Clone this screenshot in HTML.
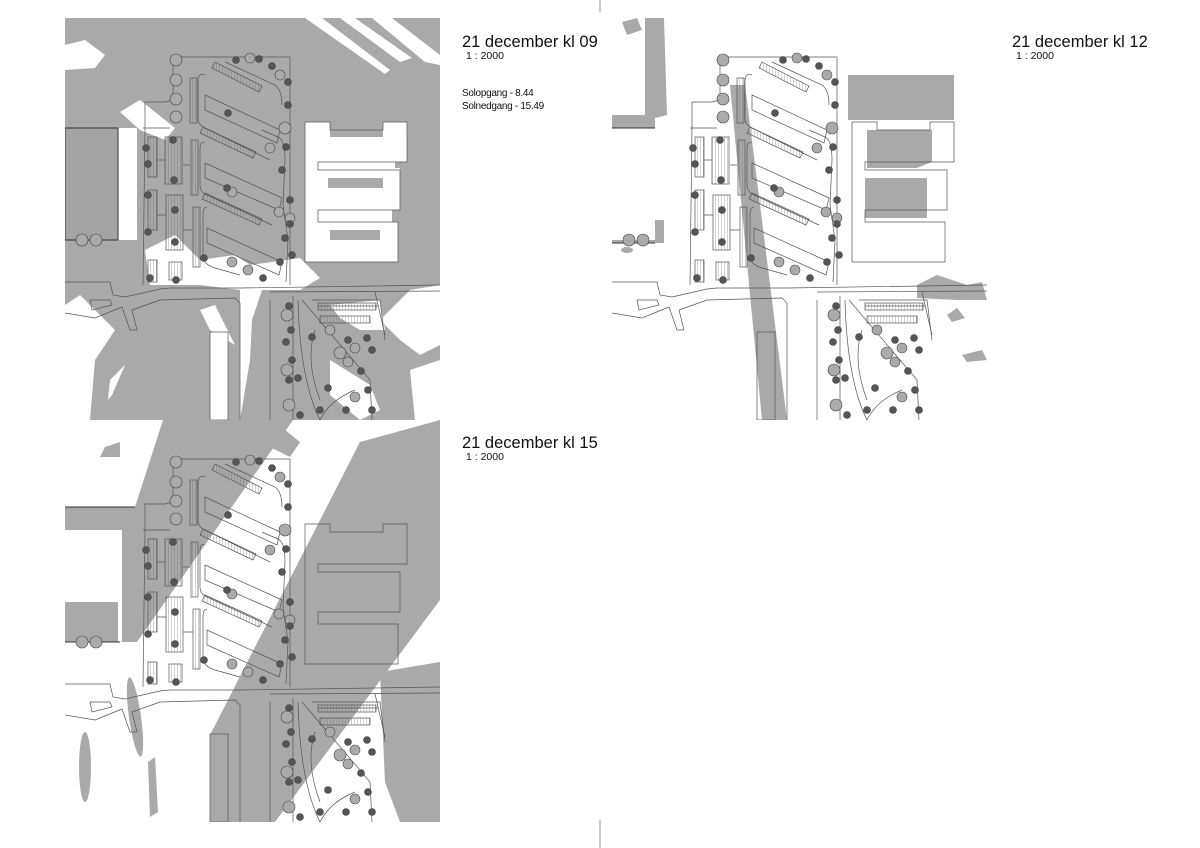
<!DOCTYPE html>
<html><head><meta charset="utf-8"><style>
html,body{margin:0;padding:0;background:#fff;width:1200px;height:848px;overflow:hidden}
svg{display:block}
.t1{font-family:"Liberation Sans",sans-serif;font-size:16.5px;fill:#111}
.t2{font-family:"Liberation Sans",sans-serif;font-size:10.5px;fill:#111}
.t3{font-family:"Liberation Sans",sans-serif;font-size:10px;fill:#111;letter-spacing:-0.3px}
</style></head><body>
<svg width="1200" height="848" viewBox="0 0 1200 848" xmlns="http://www.w3.org/2000/svg">
<defs>
<clipPath id="c3"><rect x="65" y="18" width="375" height="402"/></clipPath>
<pattern id="hat" width="3" height="3" patternUnits="userSpaceOnUse"><rect width="3" height="3" fill="none"/><path d="M0,0V3" stroke="#666" stroke-width="0.6"/></pattern>
<g id="plan" fill="none" stroke="#555" stroke-width="0.7">
  <path d="M173,57 L290,57 L290,285 M173,57 L173,100 L165,102 L145,102 L145,128 M145,128 L143,285"/>
  <path d="M143,128 L160,128 L170,128"/>
  <rect x="190" y="78" width="7" height="45" fill="url(#hat)"/>
  <rect x="191" y="140" width="7" height="55" fill="url(#hat)"/>
  <rect x="193" y="207" width="7" height="60" fill="url(#hat)"/>
  <polygon points="215,62 262,86 259,92 212,68" fill="url(#hat)"/>
  <polygon points="203,127 256,152 253,158 200,133" fill="url(#hat)"/>
  <polygon points="205,193 262,219 259,225 202,199" fill="url(#hat)"/>
  <path d="M205,75 Q198,72 198,82 L198,118 Q198,125 205,128 L270,160"/>
  <polygon points="205,95 280,130 277,143 205,110"/>
  <path d="M205,143 Q200,140 200,150 L200,185 Q200,192 207,195 L272,225"/>
  <polygon points="205,163 282,198 279,210 205,178"/>
  <path d="M207,208 Q203,206 203,215 L203,258 Q205,265 215,268 L240,275"/>
  <polygon points="207,228 282,262 279,275 207,243"/>
  <path d="M225,62 L275,85 Q282,90 282,105 M262,130 L278,137 Q285,140 285,160 L283,205 L288,240 L286,282"/>
  <rect x="165" y="137" width="17" height="47" fill="url(#hat)"/>
  <rect x="166" y="195" width="17" height="55" fill="url(#hat)"/>
  <rect x="169" y="262" width="13" height="18" fill="url(#hat)"/>
  <rect x="148" y="137" width="9" height="40" fill="url(#hat)"/>
  <rect x="148" y="190" width="9" height="40" fill="url(#hat)"/>
  <rect x="148" y="260" width="9" height="22" fill="url(#hat)"/>
  <path d="M157,160 L165,160 M157,215 L166,215 M183,165 L190,165 M183,230 L193,230"/>
  <path d="M65,282 L110,282 L113,295 L125,297 L160,289 L170,288 L240,288 L440,285"/>
  <path d="M65,313 L95,318 L122,307 L130,330 L137,330 L132,310 L160,300 L235,298 L240,303 L240,420"/>
  <path d="M90,300 L110,300 L112,305 L92,310 Z"/>
  <path d="M270,292 L440,291 M270,300 L270,420 M375,292 L385,335"/>
  <path d="M305,122 L330,122 L330,130 L383,130 L383,122 L407,122 L407,162 L318,162 L318,170 L400,170 L400,210 L318,210 L318,222 L398,222 L398,262 L305,262 Z"/>
  <path d="M293,296 L293,420 M298,300 Q300,380 320,420 M302,300 L370,380 L372,420 M315,330 Q305,360 320,400 M355,390 Q330,400 320,420"/>
  <path d="M312,300 L380,300 L385,340 M318,306 L378,306"/>
  <rect x="318" y="303" width="58" height="7" fill="url(#hat)"/>
  <rect x="320" y="316" width="50" height="7" fill="url(#hat)"/>
  <rect x="210" y="332" width="18" height="88"/>
</g>
<g id="trees" stroke="#444" stroke-width="0.6">
  <g fill="#aaa"><circle cx="176" cy="60" r="6"/><circle cx="176" cy="80" r="6"/><circle cx="176" cy="99" r="6"/><circle cx="176" cy="117" r="6"/>
  <circle cx="250" cy="58" r="5"/><circle cx="280" cy="75" r="5"/><circle cx="285" cy="128" r="6"/><circle cx="270" cy="148" r="5"/><circle cx="279" cy="212" r="5"/><circle cx="290" cy="218" r="5"/><circle cx="232" cy="262" r="5"/><circle cx="248" cy="270" r="5"/><circle cx="232" cy="192" r="5"/><circle cx="82" cy="240" r="6"/><circle cx="96" cy="240" r="6"/>
  <circle cx="287" cy="315" r="6"/><circle cx="330" cy="330" r="5"/><circle cx="340" cy="353" r="6"/><circle cx="355" cy="348" r="5"/><circle cx="287" cy="370" r="6"/><circle cx="289" cy="405" r="6"/><circle cx="355" cy="397" r="5"/><circle cx="348" cy="362" r="5"/></g>
  <g fill="#555"><circle cx="236" cy="60" r="3.5"/><circle cx="259" cy="59" r="3.5"/><circle cx="272" cy="66" r="3.5"/><circle cx="288" cy="82" r="3.5"/><circle cx="288" cy="105" r="3.5"/><circle cx="286" cy="147" r="3.5"/><circle cx="282" cy="170" r="3.5"/><circle cx="290" cy="200" r="3.5"/><circle cx="290" cy="224" r="3.5"/><circle cx="285" cy="238" r="3.5"/><circle cx="292" cy="255" r="3.5"/><circle cx="280" cy="262" r="3.5"/><circle cx="263" cy="278" r="3.5"/><circle cx="228" cy="113" r="3.5"/><circle cx="227" cy="188" r="3.5"/>
  <circle cx="146" cy="148" r="3.5"/><circle cx="148" cy="164" r="3.5"/><circle cx="148" cy="195" r="3.5"/><circle cx="148" cy="232" r="3.5"/><circle cx="150" cy="278" r="3.5"/><circle cx="173" cy="140" r="3.5"/><circle cx="174" cy="180" r="3.5"/><circle cx="175" cy="210" r="3.5"/><circle cx="175" cy="242" r="3.5"/><circle cx="176" cy="280" r="3.5"/><circle cx="204" cy="258" r="3.5"/>
  <circle cx="289" cy="306" r="3.5"/><circle cx="291" cy="330" r="3.5"/><circle cx="286" cy="342" r="3.5"/><circle cx="292" cy="360" r="3.5"/><circle cx="289" cy="380" r="3.5"/><circle cx="298" cy="378" r="3.5"/><circle cx="312" cy="337" r="3.5"/><circle cx="348" cy="340" r="3.5"/><circle cx="367" cy="338" r="3.5"/><circle cx="372" cy="350" r="3.5"/><circle cx="361" cy="371" r="3.5"/><circle cx="368" cy="390" r="3.5"/><circle cx="372" cy="410" r="3.5"/><circle cx="346" cy="410" r="3.5"/><circle cx="320" cy="410" r="3.5"/><circle cx="300" cy="415" r="3.5"/><circle cx="328" cy="388" r="3.5"/></g>
</g>
</defs>

<!-- ============ PANEL 1 ============ -->
<g clip-path="url(#c3)">
  <rect x="65" y="18" width="375" height="402" fill="#a9a9a9"/>
  <g fill="#fff">
    <polygon points="65,45 85,40 105,55 95,68 65,70"/>
    <polygon points="305,18 322,18 390,70 385,74"/>
    <polygon points="340,18 355,18 412,58 400,62"/>
    <polygon points="372,18 392,18 440,55 440,65 425,62"/>
    <polygon points="118,128 137,128 137,240 118,240"/>
    <polygon points="120,112 140,100 175,128 165,140 140,130"/>
    <polygon points="145,250 175,235 200,260 235,255 250,265 300,258 320,278 300,290 240,290 200,285 150,285"/>
    <polygon points="305,122 330,122 330,130 383,130 383,122 407,122 407,162 395,162 395,168 400,168 400,210 392,210 392,222 398,222 398,262 305,262"/>
    <polygon points="65,305 80,295 115,330 95,360 90,420 65,420"/>
    <polygon points="110,380 125,365 112,395 108,400"/>
    <polygon points="200,310 215,305 235,345 210,330"/>
    <polygon points="210,332 228,332 228,420 210,420"/>
    <polygon points="240,290 262,290 252,320 250,360 245,390 240,420"/>
    <polygon points="330,305 380,300 385,330 360,330 340,318"/>
    <polygon points="380,320 410,290 440,285 440,345 420,355 400,340"/>
    <polygon points="330,360 370,385 380,410 360,420 330,395"/>
    <polygon points="410,370 440,360 440,420 415,420"/>
  </g>
  <rect x="65" y="128" width="53" height="112" fill="#a3a3a3" stroke="#333" stroke-width="1"/>
  <g fill="#a9a9a9"><polygon points="330,130 383,130 383,137 330,137"/><rect x="328" y="178" width="55" height="10"/><rect x="330" y="230" width="50" height="10"/></g>
  <use href="#plan"/>
  <use href="#trees"/>
</g>

<!-- ============ PANEL 2 ============ -->
<g transform="translate(547,0)">
  <g clip-path="url(#c3)">
    <g fill="#a9a9a9">
      <polygon points="98,18 117,18 120,115 108,118 108,128 65,128 65,115 98,115"/>
      <polygon points="65,240 108,240 108,220 117,220 117,240 117,243 65,243"/>
      <polygon points="183,85 198,85 240,420 215,420"/>
      <rect x="301" y="75" width="106" height="45"/>
      <polygon points="320,130 385,130 385,162 370,168 320,168"/>
      <polygon points="318,178 380,178 380,218 318,218"/>
      <polygon points="370,285 390,275 420,285 435,282 440,300 410,300 370,298"/>
      <polygon points="400,315 410,308 418,318 405,322"/>
      <polygon points="415,355 435,350 440,360 420,362"/>
      <polygon points="75,22 90,18 95,30 80,35"/>
      <ellipse cx="80" cy="250" rx="6" ry="3"/>
    </g>
    <path d="M65,128 L108,128 M65,243 L108,243" stroke="#333" stroke-width="1"/>
    <use href="#plan"/>
    <use href="#trees"/>
  </g>
</g>

<!-- ============ PANEL 3 ============ -->
<g transform="translate(0,402)">
  <g clip-path="url(#c3)">
    <g fill="#a9a9a9">
      <polygon points="163,18 293,18 200,150 137,240 122,240 122,128 65,128 65,105 135,105"/>
      <rect x="65" y="200" width="53" height="40"/>
      <polygon points="360,40 440,18 440,198 275,420 240,420 210,420 210,333"/>
      <polygon points="380,270 440,260 440,420 400,420 385,380"/>
      <polygon points="105,45 120,40 120,55 100,55"/>
      <polygon points="85,120 100,118 100,125 85,125"/>
      <polygon points="148,360 155,355 158,410 150,415"/>
      <polygon points="285,28 300,40 290,55 270,45"/>
      <ellipse cx="135" cy="315" rx="6" ry="40" transform="rotate(-8 135 315)"/>
      <ellipse cx="85" cy="365" rx="6" ry="35"/>
    </g>
    <path d="M65,105 L135,105 M65,240 L120,240" stroke="#333" stroke-width="1"/>
    <use href="#plan"/>
    <use href="#trees"/>
  </g>
</g>

<text x="462" y="47" class="t1">21 december kl 09</text>
<text x="466" y="59" class="t2">1 : 2000</text>
<text x="462" y="96" class="t3">Solopgang - 8.44</text>
<text x="462" y="109" class="t3">Solnedgang - 15.49</text>
<text x="1012" y="47" class="t1">21 december kl 12</text>
<text x="1016" y="59" class="t2">1 : 2000</text>
<text x="462" y="448" class="t1">21 december kl 15</text>
<text x="466" y="460" class="t2">1 : 2000</text>
<path d="M600,0 V12 M600,820 V848" stroke="#999" stroke-width="1"/>
</svg>
</body></html>
